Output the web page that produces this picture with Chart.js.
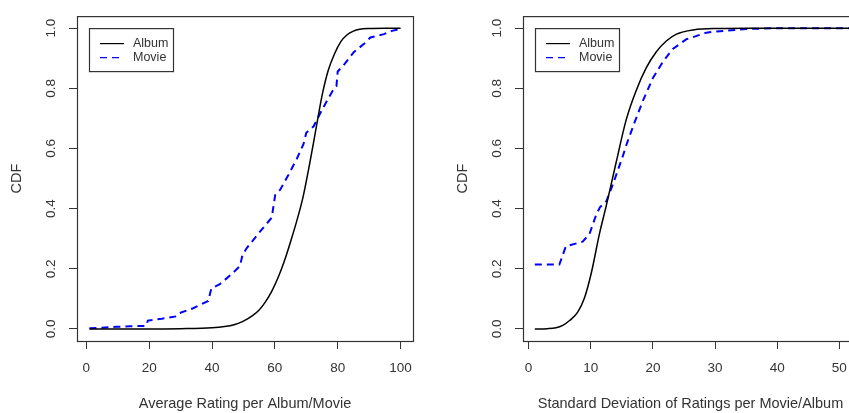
<!DOCTYPE html>
<html>
<head>
<meta charset="utf-8">
<script src="https://cdn.jsdelivr.net/npm/chart.js@4/dist/chart.umd.min.js"></script>
<style>
  html, body { margin: 0; padding: 0; background: #fff; overflow: hidden; width: 849px; height: 413px; }
  #left { position: absolute; left: 0; top: 0; }
  #right { position: absolute; left: 425px; top: 0; }
</style>
</head>
<body>
<canvas id="left" width="425" height="413"></canvas>
<canvas id="right" width="445" height="413"></canvas>
<script>
// left panel: average rating
const avgAlbumX = [1, 10, 20, 30, 40, 44, 47, 50, 53, 55, 57, 59, 61, 63, 65, 67, 69, 71, 73, 75, 77, 79, 81, 83, 85, 87, 90, 95, 100];
const avgAlbumY = [0, 0, 0, 0.001, 0.004, 0.008, 0.014, 0.026, 0.045, 0.063, 0.09, 0.125, 0.17, 0.225, 0.29, 0.36, 0.44, 0.545, 0.66, 0.775, 0.86, 0.915, 0.955, 0.978, 0.99, 0.996, 0.999, 1, 1];
const avgMovieX = [1, 5, 9.5, 14, 19, 19.6, 24, 28.7, 29.7, 34, 38.8, 39.8, 42.5, 46, 48.9, 49.7, 51, 55, 59, 60.1, 61.7, 64.3, 67, 69.1, 70, 72.3, 74.4, 76.6, 78.7, 79.6, 80, 81.9, 85.1, 88.3, 90.4, 94.7, 97, 100];
const avgMovieY = [0.002, 0.004, 0.007, 0.009, 0.01, 0.028, 0.034, 0.042, 0.053, 0.069, 0.093, 0.135, 0.149, 0.18, 0.209, 0.246, 0.268, 0.32, 0.37, 0.445, 0.463, 0.512, 0.566, 0.614, 0.652, 0.673, 0.716, 0.759, 0.797, 0.807, 0.856, 0.877, 0.92, 0.947, 0.969, 0.98, 0.99, 0.998];

// right panel: standard deviation
const sdAlbumX = [1, 3, 4.4, 5.5, 6.6, 7.9, 9, 10.1, 11.4, 12.5, 14.1, 15.7, 17.3, 18.9, 20.5, 22.2, 23.8, 26.5, 30.8, 35, 53];
const sdAlbumY = [0, 0.001, 0.004, 0.012, 0.028, 0.056, 0.104, 0.187, 0.316, 0.41, 0.555, 0.695, 0.792, 0.867, 0.92, 0.958, 0.98, 0.994, 0.999, 1, 1];
const sdMovieX = [1, 4.95, 6.0, 8.7, 9.8, 10.9, 11.5, 12.5, 13.5, 14.1, 15.2, 15.7, 17.0, 18.4, 20, 21.6, 23.2, 25.4, 28.6, 30.8, 35, 40, 53];
const sdMovieY = [0.214, 0.214, 0.275, 0.29, 0.316, 0.381, 0.405, 0.424, 0.477, 0.512, 0.577, 0.61, 0.684, 0.759, 0.834, 0.888, 0.931, 0.963, 0.985, 0.99, 0.997, 1, 1];

const yTicks = [0, 0.2, 0.4, 0.6, 0.8, 1.0];
const avgTicks = [0, 20, 40, 60, 80, 100];
const sdTicks = [0, 10, 20, 30, 40, 50];
const seriesNames = ["Album", "Movie"];

const FONT = "'Liberation Sans', Arial, Helvetica, sans-serif";
const INK = "#333";

function pts(xs, ys) {
  return xs.map((x, i) => ({ x: x, y: ys[i] }));
}

// R style box around the plot region
const boxPlugin = {
  id: "box",
  afterDraw(chart) {
    const a = chart.chartArea;
    const ctx = chart.ctx;
    ctx.save();
    ctx.strokeStyle = "#333";
    ctx.lineWidth = 1.2;
    ctx.strokeRect(a.left + 0.5, a.top + 0.5, a.right - a.left, a.bottom - a.top);
    ctx.restore();
  },
};

// boxed legend in the top-left corner like legend("topleft")
const legendPlugin = {
  id: "boxLegend",
  afterDraw(chart) {
    const a = chart.chartArea;
    const ctx = chart.ctx;
    const bx = a.left + 12, by = a.top + 12, bw = 84, bh = 43;
    ctx.save();
    ctx.fillStyle = "#fff";
    ctx.fillRect(bx, by, bw, bh);
    ctx.strokeStyle = "#333";
    ctx.lineWidth = 1.2;
    ctx.strokeRect(bx + 0.5, by + 0.5, bw, bh);
    chart.data.datasets.forEach((ds, i) => {
      const y = by + 15.5 + i * 14;
      ctx.beginPath();
      ctx.strokeStyle = ds.borderColor;
      ctx.lineWidth = i === 0 ? 1.2 : 1.4;
      ctx.setLineDash(ds.borderDash || []);
      ctx.moveTo(bx + 11, y);
      ctx.lineTo(bx + 35, y);
      ctx.stroke();
      ctx.setLineDash([]);
      ctx.fillStyle = INK;
      ctx.font = "12.5px " + FONT;
      ctx.textBaseline = "middle";
      ctx.fillText(ds.label, bx + 44, y);
    });
    ctx.restore();
  },
};

function makeChart(id, xTitle, xMin, xMax, xTicks, album, movie, padLeft) {
  const ctx = document.getElementById(id).getContext("2d");
  return new Chart(ctx, {
    type: "line",
    data: {
      datasets: [
        {
          label: seriesNames[0],
          data: album,
          borderColor: "#000",
          borderWidth: 1.5,
          pointRadius: 0,
          cubicInterpolationMode: "monotone",
          fill: false,
        },
        {
          label: seriesNames[1],
          data: movie,
          borderColor: "#0000ff",
          borderWidth: 2,
          borderDash: [7, 5],
          pointRadius: 0,
          tension: 0,
          fill: false,
        },
      ],
    },
    options: {
      responsive: false,
      animation: false,
      events: [],
      layout: { padding: { top: 6, right: 12, left: padLeft, bottom: 0 } },
      scales: {
        x: {
          type: "linear",
          min: xMin,
          max: xMax,
          afterBuildTicks: (s) => { s.ticks = xTicks.map((v) => ({ value: v })); },
          afterFit: (s) => { s.height = 72; },
          grid: { drawOnChartArea: false, drawTicks: true, tickLength: 8, color: "#333", lineWidth: 1 },
          border: { display: false },
          ticks: {
            autoSkip: false,
            maxRotation: 0,
            padding: 11,
            color: INK,
            font: { family: FONT, size: 13.5 },
            callback: (v) => String(v),
          },
          title: {
            display: true,
            text: xTitle,
            color: INK,
            font: { family: FONT, size: 14.5 },
            padding: { top: 0, bottom: 0 },
          },
        },
        y: {
          type: "linear",
          min: -0.04,
          max: 1.04,
          afterBuildTicks: (s) => { s.ticks = yTicks.map((v) => ({ value: v })); },
          afterFit: (s) => { s.width = 77; },
          grid: { drawOnChartArea: false, drawTicks: true, tickLength: 8, color: "#333", lineWidth: 1 },
          border: { display: false },
          ticks: {
            autoSkip: false,
            minRotation: 90,
            maxRotation: 90,
            crossAlign: "center",
            padding: 8,
            color: INK,
            font: { family: FONT, size: 13.5 },
            callback: (v) => v.toFixed(1),
          },
          title: {
            display: true,
            text: "CDF",
            color: INK,
            font: { family: FONT, size: 14.5 },
            padding: { top: 8, bottom: 0 },
          },
        },
      },
      plugins: {
        legend: { display: false },
        tooltip: { enabled: false },
      },
    },
    plugins: [boxPlugin, legendPlugin],
  });
}

makeChart("left", "Average Rating per Album/Movie", -2.96, 103.96, avgTicks,
  pts(avgAlbumX, avgAlbumY), pts(avgMovieX, avgMovieY), 0);
makeChart("right", "Standard Deviation of Ratings per Movie/Album", -0.9, 53.0, sdTicks,
  pts(sdAlbumX, sdAlbumY), pts(sdMovieX, sdMovieY), 21);
</script>
</body>
</html>
